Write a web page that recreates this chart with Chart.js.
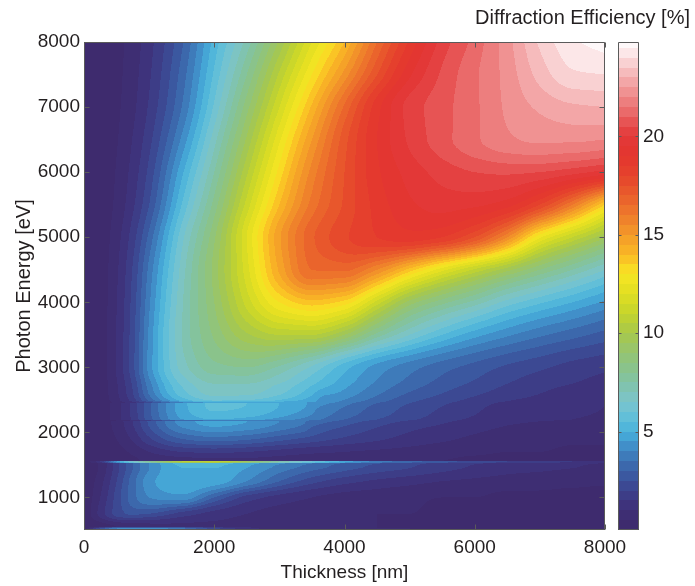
<!DOCTYPE html>
<html>
<head>
<meta charset="utf-8">
<script src="https://cdn.jsdelivr.net/npm/chart.js@4.4.1/dist/chart.umd.min.js"></script>
<style>
  body { margin: 0; background: #fff; }
  #wrap { position: relative; width: 695px; height: 586px; }
  #wrap canvas { position: absolute; left: 0; top: 0; }
  #cbTitle {
    position: absolute; right: 5px; top: 6px; white-space: nowrap; line-height: 23px;
    font: 20px "Liberation Sans", Arial, sans-serif; color: #231f20;
  }
</style>
</head>
<body>
<div id="wrap">
  <canvas id="map" width="695" height="586"></canvas>
  <canvas id="cbar" width="695" height="586"></canvas>
  <div id="cbTitle">Diffraction Efficiency [%]</div>
</div>
<script>
// grid columns (nm) and rows (eV)
const thickness = [0, 250, 500, 750, 1000, 1500, 2000, 2500, 3000, 3500, 4000, 4500, 5000, 5500, 6000, 6500, 7000, 7500, 8000];
const energies = [500, 515, 530, 550, 750, 1000, 1250, 1450, 1530, 1540, 1555, 1560, 1700, 1900, 2170, 2185, 2200,
                  2450, 2465, 2480, 2750, 3000, 3500, 4000, 4500, 5000, 5500, 6000, 6500, 7000, 7500, 8000];

// efficiency [%], one row per energy, one value per thickness
const efficiency = [
  [0, 0.3, 0.6, 0.8, 0.9, 1.0, 1.0, 0.9, 0.8, 0.7, 0.6, 0.5, 0.5, 0.4, 0.4, 0.4, 0.3, 0.3, 0.3],        // 500
  [0, 2.5, 4.0, 4.3, 4.3, 3.6, 2.2, 1.2, 0.8, 0.7, 0.6, 0.5, 0.5, 0.4, 0.4, 0.4, 0.3, 0.3, 0.3],        // 515
  [0, 2.5, 4.0, 4.3, 4.3, 3.6, 2.2, 1.2, 0.8, 0.7, 0.6, 0.5, 0.5, 0.4, 0.4, 0.4, 0.3, 0.3, 0.3],        // 530
  [0, 0.2, 0.5, 0.7, 0.8, 0.9, 0.9, 0.8, 0.7, 0.6, 0.5, 0.5, 0.4, 0.4, 0.4, 0.3, 0.3, 0.3, 0.3],        // 550
  [0, 1.2, 2.2, 2.6, 2.5, 1.8, 1.3, 1.0, 0.8, 0.7, 0.6, 0.5, 0.5, 0.4, 0.4, 0.4, 0.3, 0.3, 0.3],        // 750
  [0, 1.0, 2.2, 3.3, 4.0, 4.3, 3.0, 1.8, 1.3, 1.0, 0.8, 0.7, 0.6, 0.5, 0.5, 0.4, 0.4, 0.4, 0.3],        // 1000
  [0, 0.8, 2.0, 3.3, 4.3, 5.0, 4.8, 4.0, 3.0, 2.2, 1.7, 1.4, 1.2, 1.0, 0.9, 0.8, 0.7, 0.6, 0.6],        // 1250
  [0, 0.6, 1.8, 3.0, 4.0, 5.0, 5.0, 4.5, 3.8, 3.2, 2.7, 2.3, 2.0, 1.7, 1.4, 1.2, 1.1, 1.0, 0.9],        // 1450
  [0, 0.6, 1.8, 3.0, 4.0, 5.2, 5.3, 4.8, 4.2, 3.6, 3.0, 2.6, 2.2, 1.9, 1.6, 1.4, 1.2, 1.1, 1.0],        // 1530
  [0, 1.5, 4.5, 6.5, 8.0, 10.5, 11.0, 9.5, 7.5, 6.0, 4.8, 3.8, 3.2, 2.7, 2.3, 2.0, 1.7, 1.5, 1.3],      // 1540
  [0, 1.5, 4.5, 6.5, 8.0, 10.5, 11.0, 9.5, 7.5, 6.0, 4.8, 3.8, 3.2, 2.7, 2.3, 2.0, 1.7, 1.5, 1.3],      // 1555
  [0, 0.05, 0.2, 0.4, 0.6, 0.8, 0.9, 0.9, 0.8, 0.7, 0.7, 0.6, 0.5, 0.5, 0.4, 0.4, 0.4, 0.3, 0.3],      // 1560
  [0, 0.08, 0.3, 0.6, 1.0, 1.5, 1.6, 1.5, 1.3, 1.1, 1.0, 0.9, 0.8, 0.7, 0.6, 0.5, 0.5, 0.4, 0.4],      // 1700
  [0, 0.15, 0.5, 1.1, 1.9, 3.0, 3.3, 3.1, 2.7, 2.3, 1.9, 1.6, 1.3, 1.1, 0.9, 0.8, 0.7, 0.6, 0.6],      // 1900
  [0, 0.2, 0.7, 1.5, 2.6, 4.2, 4.7, 4.5, 4.0, 3.4, 2.8, 2.3, 1.9, 1.6, 1.3, 1.1, 1.0, 0.9, 0.8],       // 2170
  [0, 0.15, 0.5, 1.1, 1.9, 3.1, 3.5, 3.5, 3.6, 3.5, 2.9, 2.4, 2.0, 1.65, 1.35, 1.15, 1.05, 0.95, 0.85], // 2185
  [0, 0.2, 0.8, 1.6, 2.8, 4.5, 5.0, 4.8, 4.3, 3.7, 3.0, 2.5, 2.1, 1.7, 1.4, 1.2, 1.1, 1.0, 0.9],       // 2200
  [0, 0.2, 0.8, 1.7, 2.9, 4.8, 5.6, 5.5, 5.0, 4.4, 3.7, 3.0, 2.5, 2.1, 1.7, 1.4, 1.2, 1.1, 1.0],       // 2450
  [0, 0.15, 0.6, 1.2, 2.1, 3.6, 4.2, 4.3, 4.5, 4.5, 3.8, 3.1, 2.55, 2.15, 1.75, 1.45, 1.25, 1.1, 1.0], // 2465
  [0, 0.2, 0.8, 1.7, 3.0, 5.0, 5.9, 5.8, 5.3, 4.6, 3.9, 3.2, 2.6, 2.2, 1.8, 1.5, 1.3, 1.1, 1.0],       // 2480
  [0, 0.24, 0.95, 2.1, 3.8, 6.1, 7.0, 7.0, 6.5, 5.6, 4.7, 3.9, 3.3, 2.8, 2.4, 2.0, 1.7, 1.5, 1.3],      // 2750
  [0, 0.26, 1.05, 2.35, 4.2, 6.7, 7.8, 8.0, 7.4, 6.4, 5.2, 4.3, 3.7, 3.2, 2.8, 2.4, 2.1, 1.8, 1.6],     // 3000
  [0, 0.26, 1.03, 2.3, 4.1, 7.0, 8.6, 9.9, 10.5, 10.5, 9.5, 7.8, 6.5, 5.5, 4.7, 4.1, 3.6, 3.2, 2.8],   // 3500
  [0, 0.24, 0.98, 2.2, 3.9, 6.9, 9.0, 11.2, 13.0, 13.8, 13.3, 11.3, 9.3, 8.2, 7.3, 6.3, 5.6, 5.0, 4.4], // 4000
  [0, 0.23, 0.91, 2.05, 3.65, 6.7, 9.2, 11.8, 14.6, 16.5, 16.6, 15.5, 13.8, 12.2, 10.9, 9.7, 8.5, 7.5, 6.5], // 4500
  [0, 0.2, 0.79, 1.77, 3.15, 6.3, 8.9, 12.0, 14.9, 16.9, 17.9, 18.5, 18.8, 18.5, 17.5, 15.5, 12.6, 11.0, 9.6], // 5000
  [0, 0.16, 0.62, 1.4, 2.5, 5.5, 8.2, 11.2, 14.0, 16.2, 17.6, 18.7, 19.4, 19.7, 19.6, 19.2, 18.0, 16.0, 13.5], // 5500
  [0, 0.14, 0.54, 1.2, 2.15, 4.85, 7.5, 10.4, 13.2, 15.7, 17.5, 18.9, 19.7, 20.2, 20.5, 20.6, 20.5, 20.2, 19.8], // 6000
  [0, 0.12, 0.46, 1.03, 1.83, 4.1, 6.8, 9.6, 12.4, 15.0, 17.3, 19.0, 20.1, 20.8, 21.4, 21.9, 22.1, 22.1, 22.0], // 6500
  [0, 0.1, 0.4, 0.88, 1.57, 3.5, 6.1, 8.8, 11.5, 14.1, 16.6, 18.8, 20.2, 20.8, 21.4, 22.1, 22.6, 22.9, 23.0],   // 7000
  [0, 0.1, 0.36, 0.8, 1.42, 3.2, 5.6, 8.0, 10.6, 13.0, 15.2, 17.5, 19.4, 20.6, 21.4, 22.2, 23.2, 23.9, 24.0],   // 7500
  [0, 0.09, 0.33, 0.73, 1.3, 2.9, 5.2, 7.2, 9.6, 12.0, 14.0, 16.5, 18.6, 20.2, 21.2, 22.3, 23.6, 24.4, 24.75]   // 8000
];

const thicknessTicks = [0, 2000, 4000, 6000, 8000];
const energyTicks = [1000, 2000, 3000, 4000, 5000, 6000, 7000, 8000];
const colorTicks = [5, 10, 15, 20];

const levelStep = 0.5;
const colorMin = 0;
const colorMax = 24.8;

// colour map stops: value -> colour
const colorStops = [
  [0.0, '#3e2a6b'], [1.0, '#3e2f76'], [1.5, '#3d3781'], [2.0, '#3c428d'], [2.5, '#3b5099'],
  [3.0, '#3b5fa6'], [3.5, '#3d71b2'], [4.0, '#3f85c1'], [4.5, '#4299d0'], [5.0, '#48b2db'],
  [5.75, '#62bfd8'], [6.5, '#7cc5cd'], [7.25, '#80c3b0'], [8.0, '#86c393'], [9.0, '#95c472'],
  [10.0, '#a8c84a'], [11.0, '#c4d42c'], [12.0, '#e0de22'], [13.0, '#f7e623'], [13.5, '#fbd024'],
  [14.0, '#f9b825'], [15.0, '#f39a29'], [16.0, '#ee7a2c'], [17.0, '#e95d2c'], [18.0, '#e5442c'],
  [19.0, '#e3352e'], [20.0, '#e3393a'], [20.5, '#e54848'], [21.0, '#e86060'], [22.0, '#ee8888'],
  [23.0, '#f4b0b1'], [24.0, '#fadcdd'], [24.8, '#ffffff']
];

const FONT = '"Liberation Sans", Arial, sans-serif';
const INK = '#231f20';
const FRAME = '#5a5a5a';

function hexRgb(h) {
  return [parseInt(h.slice(1, 3), 16), parseInt(h.slice(3, 5), 16), parseInt(h.slice(5, 7), 16)];
}
const stopRgb = colorStops.map(s => [s[0], hexRgb(s[1])]);

function colorAt(v) {
  if (v <= stopRgb[0][0]) return stopRgb[0][1];
  for (let k = 1; k < stopRgb.length; k++) {
    if (v <= stopRgb[k][0]) {
      const [v0, c0] = stopRgb[k - 1], [v1, c1] = stopRgb[k];
      const f = (v - v0) / (v1 - v0);
      return c0.map((c, i) => Math.round(c + (c1[i] - c) * f));
    }
  }
  return stopRgb[stopRgb.length - 1][1];
}

// one flat colour per contour band
const nBands = Math.ceil((colorMax - colorMin) / levelStep);
const bandRgb = [];
for (let b = 0; b < nBands; b++) {
  const lo = colorMin + b * levelStep, hi = Math.min(colorMax, lo + levelStep);
  bandRgb.push(colorAt((lo + hi) / 2));
}
function bandOf(v) {
  return Math.max(0, Math.min(nBands - 1, Math.floor((v - colorMin) / levelStep)));
}

function locate(arr, v) {
  if (v <= arr[0]) return [0, 0];
  const n = arr.length - 1;
  if (v >= arr[n]) return [n - 1, 1];
  let i = 0;
  while (arr[i + 1] < v) i++;
  return [i, (v - arr[i]) / (arr[i + 1] - arr[i])];
}

// monotone (Fritsch-Butland) slopes, so the surface never overshoots the grid values
function monoSlopes(xs, ys) {
  const n = xs.length, d = [], m = new Array(n);
  for (let k = 0; k < n - 1; k++) d.push((ys[k + 1] - ys[k]) / (xs[k + 1] - xs[k]));
  m[0] = d[0];
  m[n - 1] = d[n - 2];
  for (let k = 1; k < n - 1; k++) {
    if (d[k - 1] * d[k] <= 0) { m[k] = 0; continue; }
    const h0 = xs[k] - xs[k - 1], h1 = xs[k + 1] - xs[k];
    m[k] = 3 * (h0 + h1) / ((2 * h1 + h0) / d[k - 1] + (h1 + 2 * h0) / d[k]);
  }
  return m;
}

function hermite(y0, y1, m0, m1, h, f) {
  const f2 = f * f, f3 = f2 * f;
  return (2 * f3 - 3 * f2 + 1) * y0 + (f3 - 2 * f2 + f) * h * m0 + (-2 * f3 + 3 * f2) * y1 + (f3 - f2) * h * m1;
}

const rowSlopes = efficiency.map(r => monoSlopes(thickness, r));

// filled contour map painted behind the datasets
const contourFill = {
  id: 'contourFill',
  beforeDatasetsDraw(chart) {
    const { ctx, chartArea: a, scales: { x, y } } = chart;
    const w = Math.round(a.right - a.left), h = Math.round(a.bottom - a.top);
    const img = ctx.createImageData(w, h);
    // each pixel column: values along energy, then their slopes
    const colVals = [], colSlopes = [];
    for (let px = 0; px < w; px++) {
      const [j, fx] = locate(thickness, x.getValueForPixel(a.left + px + 0.5));
      const hx = thickness[j + 1] - thickness[j];
      const vals = efficiency.map((r, i) => hermite(r[j], r[j + 1], rowSlopes[i][j], rowSlopes[i][j + 1], hx, fx));
      colVals.push(vals);
      colSlopes.push(monoSlopes(energies, vals));
    }
    for (let py = 0; py < h; py++) {
      const [i, fy] = locate(energies, y.getValueForPixel(a.top + py + 0.5));
      const hy = energies[i + 1] - energies[i];
      for (let px = 0; px < w; px++) {
        const v = colVals[px], m = colSlopes[px];
        const c = bandRgb[bandOf(hermite(v[i], v[i + 1], m[i], m[i + 1], hy, fy))];
        const o = (py * w + px) * 4;
        img.data[o] = c[0]; img.data[o + 1] = c[1]; img.data[o + 2] = c[2]; img.data[o + 3] = 255;
      }
    }
    ctx.putImageData(img, Math.round(a.left), Math.round(a.top));
  }
};

// colour bar bands, drawn from the bar's own value scale
const colorBarFill = {
  id: 'colorBarFill',
  beforeDatasetsDraw(chart) {
    const { ctx, chartArea: a, scales: { y } } = chart;
    for (let b = 0; b < nBands; b++) {
      const lo = colorMin + b * levelStep, hi = Math.min(colorMax, lo + levelStep);
      const y0 = Math.round(y.getPixelForValue(lo)), y1 = Math.round(y.getPixelForValue(hi));
      const c = bandRgb[b];
      ctx.fillStyle = `rgb(${c[0]},${c[1]},${c[2]})`;
      ctx.fillRect(a.left, y1, a.right - a.left, y0 - y1);
    }
  }
};

// box with short inward ticks on every side
const boxFrame = {
  id: 'boxFrame',
  afterDraw(chart, args, opts) {
    const { ctx, chartArea: a, scales } = chart;
    const len = opts.tick || 5;
    ctx.save();
    ctx.strokeStyle = FRAME;
    ctx.lineWidth = 1;
    ctx.beginPath();
    const L = Math.round(a.left) + 0.5, R = Math.round(a.right) - 0.5;
    const T = Math.round(a.top) + 0.5, B = Math.round(a.bottom) - 0.5;
    ctx.rect(L, T, R - L, B - T);
    if (scales.x && scales.x.options.display) {
      scales.x.ticks.forEach(t => {
        const px = Math.round(scales.x.getPixelForValue(t.value)) + 0.5;
        ctx.moveTo(px, B); ctx.lineTo(px, B - len);
        ctx.moveTo(px, T); ctx.lineTo(px, T + len);
      });
    }
    if (scales.y) {
      scales.y.ticks.forEach(t => {
        const py = Math.round(scales.y.getPixelForValue(t.value)) + 0.5;
        ctx.moveTo(L, py); ctx.lineTo(L + len, py);
        ctx.moveTo(R, py); ctx.lineTo(R - len, py);
      });
    }
    ctx.stroke();
    ctx.restore();
  }
};

Chart.defaults.font.family = FONT;
Chart.defaults.font.size = 19;
Chart.defaults.color = INK;
Chart.defaults.animation = false;

const gridPoints = [];
energies.forEach((e, i) => thickness.forEach((t, j) => gridPoints.push({ x: t, y: e, v: efficiency[i][j] })));

new Chart(document.getElementById('map'), {
  type: 'scatter',
  data: { datasets: [{ data: gridPoints, pointRadius: 0, pointHoverRadius: 0 }] },
  options: {
    responsive: false,
    events: [],
    layout: { padding: { top: 42, right: 90, left: 0, bottom: 0 } },
    plugins: { legend: { display: false }, tooltip: { enabled: false }, boxFrame: { tick: 5 } },
    scales: {
      x: {
        type: 'linear', min: 0, max: 8000,
        afterBuildTicks: s => { s.ticks = thicknessTicks.map(v => ({ value: v })); },
        afterFit: s => { s.height = 56; },
        grid: { display: false, drawTicks: false }, border: { display: false },
        ticks: { padding: 6, callback: v => String(v) },
        title: { display: true, text: 'Thickness [nm]', padding: { top: 0, bottom: 2 } }
      },
      y: {
        type: 'linear', min: 500, max: 8000,
        afterBuildTicks: s => { s.ticks = energyTicks.map(v => ({ value: v })); },
        afterFit: s => { s.width = 84; },
        grid: { display: false, drawTicks: false }, border: { display: false },
        ticks: { padding: 4, callback: v => String(v) },
        title: { display: true, text: 'Photon Energy [eV]', font: { size: 20 }, padding: { top: 12, bottom: 0 } }
      }
    }
  },
  plugins: [contourFill, boxFrame]
});

new Chart(document.getElementById('cbar'), {
  type: 'scatter',
  data: { datasets: [{ data: [], pointRadius: 0 }] },
  options: {
    responsive: false,
    events: [],
    layout: { padding: { top: 42, right: 0, left: 618, bottom: 56 } },
    plugins: { legend: { display: false }, tooltip: { enabled: false }, boxFrame: { tick: 3 } },
    scales: {
      x: { type: 'linear', display: false, min: 0, max: 1 },
      y: {
        type: 'linear', position: 'right', min: colorMin, max: colorMax,
        afterBuildTicks: s => { s.ticks = colorTicks.map(v => ({ value: v })); },
        afterFit: s => { s.width = 56; },
        grid: { display: false, drawTicks: false }, border: { display: false },
        ticks: { padding: 4, callback: v => String(v) }
      }
    }
  },
  plugins: [colorBarFill, boxFrame]
});
</script>
</body>
</html>
